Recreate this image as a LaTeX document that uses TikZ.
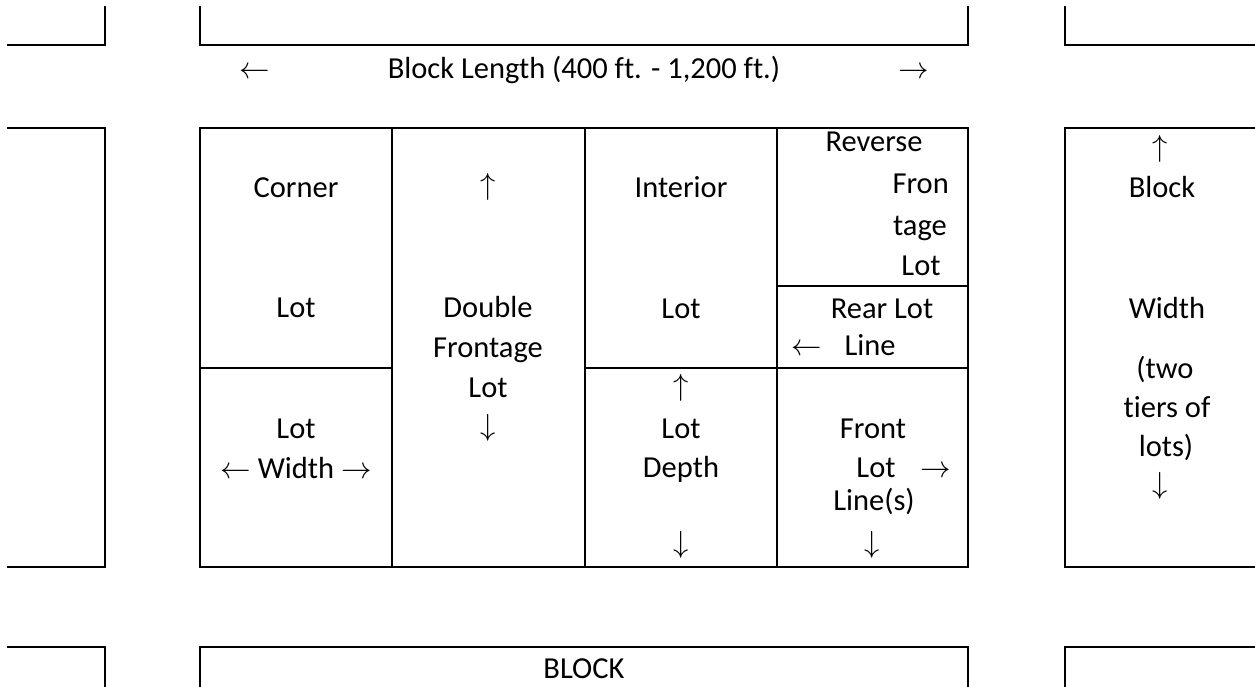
\documentclass[tikz,border=0pt]{standalone}
\usepackage{fix-cm}
\usepackage{fontspec}
\setmainfont{Carlito}[Ligatures=NoCommon]
\begin{document}
\begin{tikzpicture}[x=1pt,y=-1pt,
  wall/.style={line width=1.8pt,line join=miter,line cap=rect},
  cell/.style={line width=1.8pt},
  txt/.style={inner sep=0pt,anchor=base,font=\fontsize{30.5}{40}\selectfont},
  txtr/.style={txt,anchor=base east}]
\useasboundingbox (0,0) rectangle (1255,687);
% top row of blocks
\draw[wall] (8,45) -- (105,45) -- (105,7);
\draw[wall] (200,7) -- (200,45) -- (968,45) -- (968,7);
\draw[wall] (1065,7) -- (1065,45) -- (1256,45);
% middle row of blocks
\draw[wall] (8,128) -- (105,128) -- (105,567) -- (8,567);
\draw[wall] (1256,128) -- (1065,128) -- (1065,567) -- (1256,567);
\draw[wall] (200,128) rectangle (968,567);
\draw[cell] (392,128) -- (392,567);
\draw[cell] (585,128) -- (585,567);
\draw[cell] (777,128) -- (777,567);
\draw[cell] (200,368) -- (392,368);
\draw[cell] (585,368) -- (968,368);
\draw[cell] (777,286) -- (968,286);
% bottom row of blocks
\draw[wall] (8,647) -- (105,647) -- (105,688);
\draw[wall] (200,688) -- (200,647) -- (968,647) -- (968,688);
\draw[wall] (1256,647) -- (1065,647) -- (1065,688);
% top label
\node[txt] (lenL) at (255,79) {$\leftarrow$};
\node[txt] (len) at (584,79) {Block Length (400 ft. - 1,200 ft.)};
\node[txt] (lenR) at (914,79) {$\rightarrow$};
% column 1
\node[txt] (corner) at (296,197) {Corner};
\node[txt] (cornerlot) at (296,317) {Lot};
\node[txt] (lotw1) at (296,438) {Lot};
\node[txt] (lotw2) at (296,478) {$\leftarrow$ Width $\rightarrow$};
% column 2
\node[txt] (dfup) at (488,195) {$\uparrow$};
\node[txt] (df1) at (488,317) {Double};
\node[txt] (df2) at (488,357) {Frontage};
\node[txt] (df3) at (488,397) {Lot};
\node[txt] (dfdn) at (488,435) {$\downarrow$};
% column 3
\node[txt] (int1) at (681,198) {Interior};
\node[txt] (int2) at (681,318) {Lot};
\node[txt] (ldup) at (681,395) {$\uparrow$};
\node[txt] (ld1) at (681,438) {Lot};
\node[txt] (ld2) at (681,477) {Depth};
\node[txt] (lddn) at (681,552) {$\downarrow$};
% column 4
\node[txt] (rf1) at (874,152) {Reverse};
\node[txtr] (rf2) at (949,194) {Fron};
\node[txtr] (rf3) at (947,235) {tage};
\node[txt] (rf4) at (921,275) {Lot};
\node[txt] (rl1) at (882,318) {Rear Lot};
\node[txt] (rlarr) at (807,355) {$\leftarrow$};
\node[txt] (rl2) at (870,355) {Line};
\node[txt] (fl1) at (873,438) {Front};
\node[txt] (fl2) at (876,477) {Lot};
\node[txt] (flarr) at (936,477) {$\rightarrow$};
\node[txt] (fl3) at (874,510) {Line(s)};
\node[txt] (fldn) at (872,552) {$\downarrow$};
% right block
\node[txt] (bwup) at (1160,157) {$\uparrow$};
\node[txt] (bw1) at (1162,198) {Block};
\node[txt] (bw2) at (1167,318) {Width};
\node[txt] (bw3) at (1165,378) {(two};
\node[txt] (bw4) at (1167,417) {tiers of};
\node[txt] (bw5) at (1166,456) {lots)};
\node[txt] (bwdn) at (1160,493) {$\downarrow$};
% bottom label
\node[txt] (block) at (584,678) {BLOCK};
\end{tikzpicture}
\end{document}
